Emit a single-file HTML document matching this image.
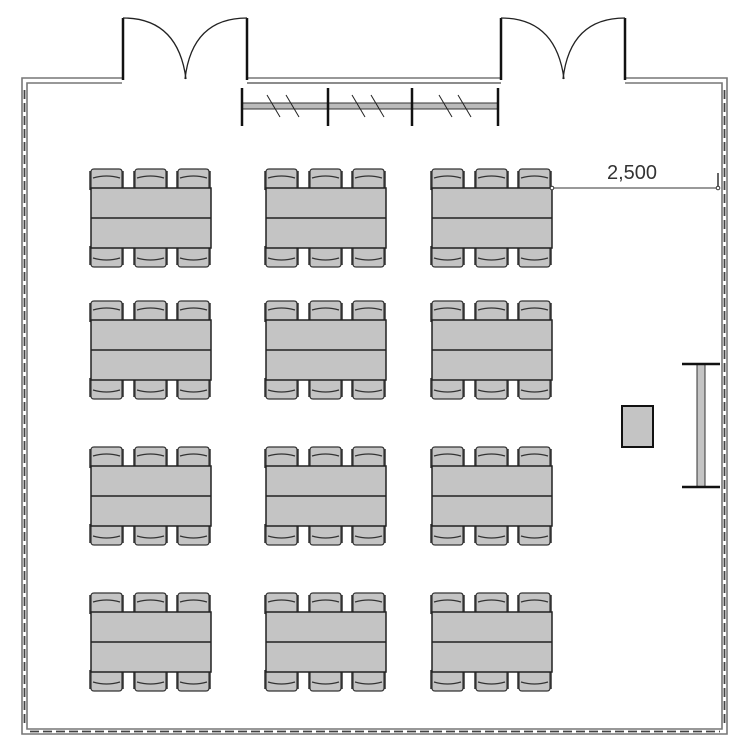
<!DOCTYPE html>
<html><head><meta charset="utf-8"><style>html,body{margin:0;padding:0;background:#fff}svg{display:block}</style></head>
<body>
<svg width="750" height="750" viewBox="0 0 750 750" xmlns="http://www.w3.org/2000/svg">
<defs>
<g id="ch">
  <path d="M1,22 L1,4 Q1,1 4,1 L29,1 Q32,1 32,4 L32,22 Z" fill="#c4c4c4" stroke="#333" stroke-width="1.2"/>
  <line x1="0" y1="3" x2="0" y2="22" stroke="#333" stroke-width="1.5"/>
  <line x1="33" y1="3" x2="33" y2="22" stroke="#333" stroke-width="1.5"/>
  <path d="M3,10 Q16.5,6 30,10" fill="none" stroke="#333" stroke-width="1.2"/>
</g>
<g id="tb">
  <use href="#ch" x="0" y="0"/><use href="#ch" x="44" y="0"/><use href="#ch" x="87" y="0"/>
  <g transform="translate(0,100) scale(1,-1)">
    <use href="#ch" x="0" y="0"/><use href="#ch" x="44" y="0"/><use href="#ch" x="87" y="0"/>
  </g>
  <rect x="1" y="20" width="120" height="60" fill="#c4c4c4" stroke="#222" stroke-width="1.5"/>
  <line x1="1" y1="50" x2="121" y2="50" stroke="#222" stroke-width="1.5"/>
</g>
</defs>
<!-- walls -->
<g fill="none" stroke="#777" stroke-width="1.6">
  <path d="M122,78 L22,78 L22,734 L727,734 L727,78 L625,78"/>
  <path d="M122,83 L27,83 L27,729 L722,729 L722,83 L625,83"/>
  <path d="M247,78 L501,78"/>
  <path d="M247,83 L501,83" stroke="#666"/>
</g>
<g stroke="#444" stroke-width="1.8" stroke-dasharray="9,4">
  <line x1="24.5" y1="90" x2="24.5" y2="725"/>
  <line x1="724.5" y1="90" x2="724.5" y2="725"/>
  <line x1="30" y1="731.5" x2="720" y2="731.5"/>
</g>
<!-- doors -->
<g fill="none" stroke="#111" stroke-width="2.5">
  <path d="M123,80 L123,18"/><path d="M247,80 L247,18"/>
  <path d="M501,80 L501,18"/><path d="M625,80 L625,18"/>
</g>
<g fill="none" stroke="#222" stroke-width="1.3">
  <path d="M123,18 Q178,18 186,79"/><path d="M247,18 Q192,18 185,79"/>
  <path d="M501,18 Q556,18 564,79"/><path d="M625,18 Q570,18 563,79"/>
</g>
<!-- window -->
<rect x="242" y="103" width="256" height="6" fill="#bbb" stroke="#333" stroke-width="1"/>
<g stroke="#111" stroke-width="2.5">
  <line x1="242" y1="88" x2="242" y2="126"/><line x1="328" y1="88" x2="328" y2="126"/>
  <line x1="412" y1="88" x2="412" y2="126"/><line x1="498" y1="88" x2="498" y2="126"/>
</g>
<g stroke="#222" stroke-width="1">
  <line x1="267" y1="95" x2="280" y2="117"/><line x1="286" y1="95" x2="299" y2="117"/>
  <line x1="352" y1="95" x2="365" y2="117"/><line x1="371" y1="95" x2="384" y2="117"/>
  <line x1="439" y1="95" x2="452" y2="117"/><line x1="458" y1="95" x2="471" y2="117"/>
</g>
<!-- tables -->
<use href="#tb" x="90" y="168"/><use href="#tb" x="265" y="168"/><use href="#tb" x="431" y="168"/>
<use href="#tb" x="90" y="300"/><use href="#tb" x="265" y="300"/><use href="#tb" x="431" y="300"/>
<use href="#tb" x="90" y="446"/><use href="#tb" x="265" y="446"/><use href="#tb" x="431" y="446"/>
<use href="#tb" x="90" y="592"/><use href="#tb" x="265" y="592"/><use href="#tb" x="431" y="592"/>
<!-- dimension -->
<line x1="552" y1="188" x2="718" y2="188" stroke="#333" stroke-width="1"/>
<circle cx="552" cy="188" r="1.8" fill="#fff" stroke="#333"/>
<circle cx="718" cy="188" r="1.8" fill="#fff" stroke="#333"/>
<line x1="718" y1="173" x2="718" y2="186" stroke="#333" stroke-width="1.5"/>
<text x="632" y="179" font-family="Liberation Sans, sans-serif" font-size="20" fill="#333" text-anchor="middle">2,500</text>
<!-- podium -->
<rect x="622" y="406" width="31" height="41" fill="#c4c4c4" stroke="#111" stroke-width="2"/>
<!-- screen -->
<rect x="697" y="364" width="8" height="123" fill="#c4c4c4" stroke="#333" stroke-width="1"/>
<line x1="682" y1="364" x2="720" y2="364" stroke="#111" stroke-width="2.5"/>
<line x1="682" y1="487" x2="720" y2="487" stroke="#111" stroke-width="2.5"/>
</svg>
</body></html>
